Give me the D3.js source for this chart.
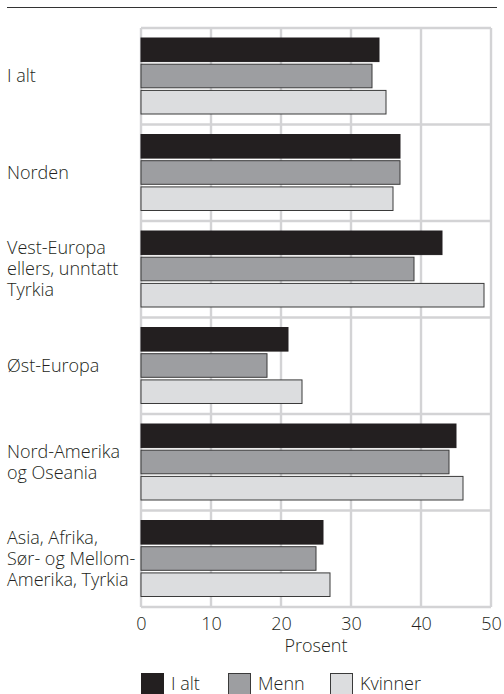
<!DOCTYPE html>
<html>
<head>
<meta charset="utf-8">
<script src="https://cdn.jsdelivr.net/npm/d3@7"></script>
<style>
  html, body { margin: 0; padding: 0; background: #fff; }
  svg { display: block; }
  text { font-family: "Open Sans", "Noto Sans", sans-serif; fill: #231f20; font-weight: 300; }
</style>
</head>
<body>
<svg id="chart" width="504" height="694"></svg>
<script>
const categories = [
  ["I alt"],
  ["Norden"],
  ["Vest-Europa", "ellers, unntatt", "Tyrkia"],
  ["Øst-Europa"],
  ["Nord-Amerika", "og Oseania"],
  ["Asia, Afrika,", "Sør- og Mellom-", "Amerika, Tyrkia"]
];
const seriesNames = ["I alt", "Menn", "Kvinner"];
const ialt    = [34, 37, 43, 21, 45, 26];
const menn    = [33, 37, 39, 18, 44, 25];
const kvinner = [35, 36, 49, 23, 46, 27];
const xTicks = [0, 10, 20, 30, 40, 50];
const axisTitle = "Prosent";

const colors = ["#231f20", "#9d9ea1", "#dcdddf"];
const values = [ialt, menn, kvinner];

const svg = d3.select("#chart");
const pLeft = 141, pRight = 491, pTop = 28, pBottom = 607;
const fs = 18;

const x = d3.scaleLinear().domain([0, 50]).range([pLeft, pRight]);
const y0 = d3.scaleBand().domain(d3.range(categories.length)).range([pTop, pBottom]).paddingInner(0).paddingOuter(0);
const y1 = d3.scaleBand().domain(seriesNames).range([10, y0.bandwidth() - 10.5]).paddingInner(0.1).paddingOuter(0);

// top rule
svg.append("line").attr("x1", 7).attr("x2", 497).attr("y1", 7.5).attr("y2", 7.5)
  .attr("stroke", "#333").attr("stroke-width", 1.2);

// grid
const grid = svg.append("g");
grid.selectAll("line.v").data(xTicks).enter().append("line")
  .attr("x1", d => x(d)).attr("x2", d => x(d))
  .attr("y1", pTop).attr("y2", pBottom)
  .attr("stroke", "#d3d3d5").attr("stroke-width", 2.4);
grid.selectAll("line.h").data(d3.range(categories.length + 1)).enter().append("line")
  .attr("x1", pLeft).attr("x2", pRight)
  .attr("y1", d => pTop + d * y0.step()).attr("y2", d => pTop + d * y0.step())
  .attr("stroke", "#d3d3d5").attr("stroke-width", 2.4);

// bars
categories.forEach((c, i) => {
  const g = svg.append("g").attr("transform", `translate(0,${y0(i)})`);
  seriesNames.forEach((s, k) => {
    g.append("rect")
      .attr("x", x(0))
      .attr("y", y1(s))
      .attr("width", x(values[k][i]) - x(0))
      .attr("height", y1.bandwidth())
      .attr("fill", colors[k])
      .attr("stroke", k === 0 ? "#231f20" : "#3a3a3a")
      .attr("stroke-width", 1);
  });
  // label
  const lh = 21;
  const cy = y0(i) + y0.bandwidth() / 2;
  const n = c.length;
  const t = svg.append("text").attr("font-size", fs);
  c.forEach((line, j) => {
    t.append("tspan").attr("x", 7)
      .attr("y", cy + (j - (n - 1) / 2) * lh + 6)
      .text(line);
  });
});

// x axis labels
const xAxis = d3.axisBottom(x).tickValues(xTicks).tickSize(0).tickPadding(0).tickFormat(d3.format("d"));
const ax = svg.append("g").attr("transform", `translate(0,${pBottom})`).call(xAxis);
ax.select(".domain").remove();
ax.selectAll("text").attr("font-size", fs).attr("dy", null).attr("y", 23)
  .style("font-family", '"Open Sans", "Noto Sans", sans-serif').style("font-weight", 300).attr("fill", "#231f20");

svg.append("text").attr("x", (pLeft + pRight) / 2).attr("y", 652)
  .attr("text-anchor", "middle").attr("font-size", fs).text(axisTitle);

// legend
const legX = [141, 228, 330];
const leg = svg.append("g");
seriesNames.forEach((s, k) => {
  leg.append("rect").attr("x", legX[k] + 0.5).attr("y", 673.5).attr("width", 22).attr("height", 22)
    .attr("fill", colors[k]).attr("stroke", k === 0 ? "#231f20" : "#3a3a3a").attr("stroke-width", 1);
  leg.append("text").attr("x", legX[k] + 30).attr("y", 690).attr("font-size", fs).text(s);
});
</script>
</body>
</html>
